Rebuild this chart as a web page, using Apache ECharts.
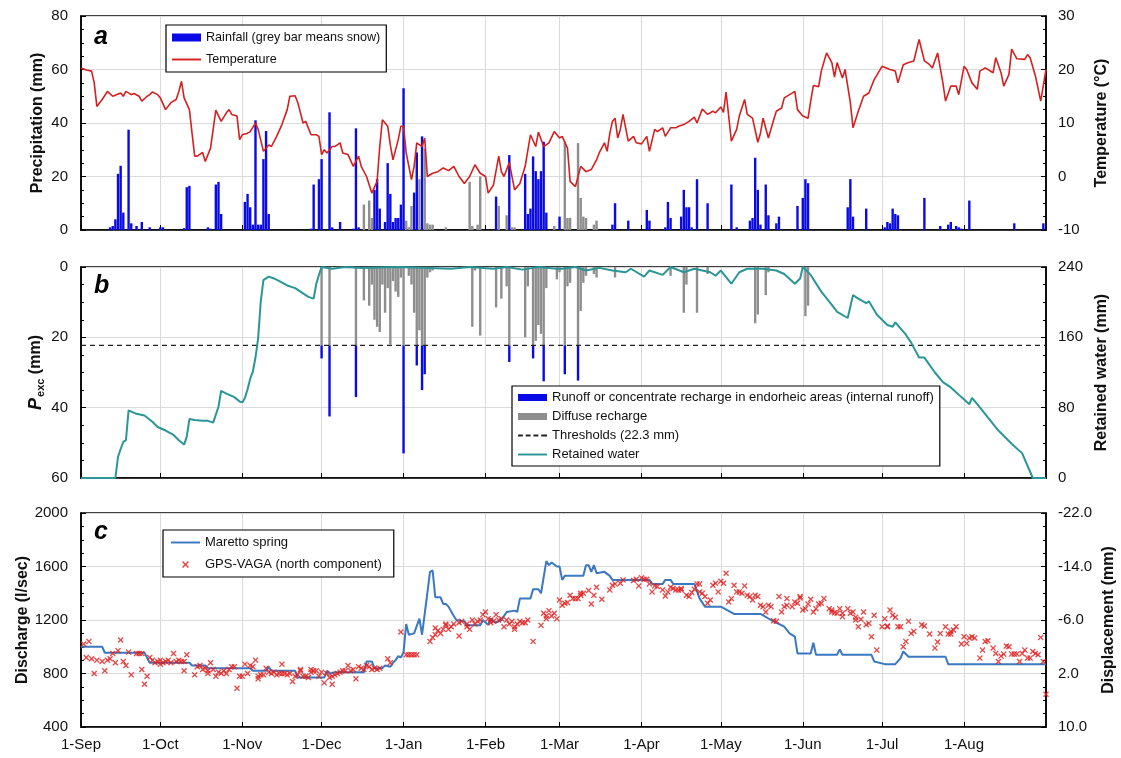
<!DOCTYPE html>
<html>
<head>
<meta charset="utf-8">
<script src="https://cdn.jsdelivr.net/npm/echarts@6/dist/echarts.min.js"></script>
<style>
  html, body { margin: 0; padding: 0; background: #fff; }
  #chart { width: 1121px; height: 758px; }
</style>
</head>
<body>
<div id="chart"></div>
<script>
// Hydrological year 1 Sep – 31 Aug; x values are day numbers counted from 1 Sep.
const monthStarts = [0, 30, 61, 91, 122, 153, 181, 212, 242, 273, 303, 334];
const monthLabels = ['1-Sep', '1-Oct', '1-Nov', '1-Dec', '1-Jan', '1-Feb', '1-Mar', '1-Apr', '1-May', '1-Jun', '1-Jul', '1-Aug'];

// Daily rainfall (mm) [day, value]
const rainfall = [[11,1],[12,1.5],[13,4],[14,21],[15,24],[16,6.5],[18,37.5],[19,2.5],[21,1.5],[23,3],[26,1],[30,1],[31,1],
  [39,0.7],[40,16],[41,16.5],[48,1],[49,0.5],[51,17],[52,18],[53,6],[62,10.5],[63,13.5],[64,8.5],[65,2],[66,41],[67,2],[68,2],
  [69,26.5],[70,37],[71,6],[87,0.5],[88,17],[90,19],[91,26.5],[94,44],[95,1],[98,3],[103,0.5],[104,38],[105,1],[111,15],[112,19],
  [113,8],[115,3],[116,25],[117,13.5],[118,3],[119,4.5],[120,4.5],[121,9.5],[122,53],[126,14],[127,29],[129,35],[157,12.5],
  [162,28],[168,21],[169,6],[170,8],[171,27.5],[172,22],[173,19],[174,22],[175,33],[176,6.5],[181,5],[201,2],[202,10],[207,3.5],
  [214,7.5],[215,3.5],[221,1],[222,10.5],[223,4.5],[227,5],[228,15],[229,8.5],[230,8.5],[231,1],[233,19],[237,10],[246,17],
  [248,1],[253,3.5],[254,4.5],[255,27],[256,15],[257,2],[259,17],[260,5.5],[263,2.5],[264,5],[271,9],[273,12],[274,19],[275,17.5],
  [290,8.5],[291,19],[292,5],[297,8],[304,1],[305,3],[306,2.5],[307,8],[308,6],[309,5.5],[319,12],[325,1.5],[328,2],[329,3],
  [331,1.5],[332,1],[333,0.5],[336,11],[353,2.5],[364,2.5]];

// Daily snowfall (mm water equivalent) [day, value]
const snowfall = [[107,9.5],[109,11],[110,4.5],[123,3.5],[124,1],[125,9],[128,19],[130,30.5],[131,2.5],[132,2],[133,2],[138,1],
  [147,18],[148,1.5],[150,2],[151,20],[158,9],[161,5.5],[163,1],[164,1],[179,1.5],[183,33],[184,4.5],[185,4.5],[188,32.5],
  [189,12],[190,5],[191,4.5],[194,2],[195,3.5]];

// Mean daily air temperature (°C) [day, value]
const temperature = [[0,20.3],[2,19.9],[4,19.7],[5,17.5],[6,13.1],[8,14.4],[10,15.9],[12,15.0],[15,15.6],[16,15.0],[17,15.9],
  [19,15.3],[20,15.5],[22,15.0],[23,14.1],[25,15.0],[26,15.3],[27,15.8],[29,15.3],[30,14.7],[32,12.5],[34,13.8],[36,14.4],[37,15.9],
  [38,17.8],[39,14.7],[41,12.5],[42,8.1],[43,3.8],[44,3.8],[46,4.5],[47,2.8],[49,5.3],[51,12.4],[53,10.3],[55,11.9],[56,12.5],
  [57,11.6],[59,11.3],[60,6.9],[61,7.8],[63,8.1],[64,8.4],[66,10.0],[67,8.8],[69,4.7],[71,5.9],[72,5.6],[74,7.5],[76,9.7],
  [78,12.5],[79,15.0],[81,15.1],[82,13.8],[84,10.0],[85,10.3],[87,7.8],[89,7.8],[90,7.5],[91,4.1],[92,5.0],[93,4.4],[95,5.6],
  [96,5.6],[98,6.3],[99,4.4],[101,4.1],[103,1.9],[105,3.8],[106,1.9],[108,0.0],[110,-3.1],[112,-0.9],[113,5.6],[114,10.6],
  [116,9.4],[117,5.9],[118,3.1],[120,6.9],[121,9.4],[122,9.4],[123,4.4],[125,-0.6],[126,1.9],[127,6.3],[129,5.6],[130,7.2],
  [131,0.0],[133,0.6],[135,0.9],[137,1.6],[139,1.1],[141,1.9],[143,0.0],[145,-1.3],[147,0.0],[149,2.2],[151,0.6],[153,0.0],
  [154,-3.1],[156,-1.6],[158,3.8],[159,0.9],[160,0.0],[162,2.6],[164,-2.5],[166,-1.3],[168,1.9],[170,7.8],[172,5.6],[173,8.3],
  [175,5.6],[177,6.3],[179,8.4],[181,7.2],[182,7.5],[184,5.3],[185,-0.9],[187,-1.9],[189,1.9],[191,0.9],[193,1.3],[195,3.1],
  [196,4.4],[198,6.3],[199,4.7],[200,8.0],[201,10.3],[202,10.9],[203,7.2],[204,8.8],[205,11.6],[207,6.6],[209,7.5],[210,6.3],
  [212,6.1],[214,7.5],[215,4.7],[217,8.8],[218,8.4],[220,9.1],[221,7.5],[223,9.1],[225,9.1],[226,9.4],[228,9.7],[230,10.3],
  [232,11.1],[233,10.0],[235,12.6],[237,11.6],[239,12.2],[240,11.9],[242,13.0],[243,12.0],[244,15.8],[246,6.6],[248,8.8],
  [249,11.3],[251,14.4],[252,11.6],[254,10.9],[256,6.4],[257,8.1],[258,10.9],[260,7.2],[262,10.6],[263,12.2],[265,12.8],
  [266,14.7],[268,15.3],[270,15.9],[271,12.5],[273,11.3],[275,10.9],[276,14.1],[277,17.0],[279,16.8],[280,19.7],[282,23.1],
  [284,21.3],[285,18.6],[286,21.3],[288,18.4],[289,20.0],[291,13.8],[292,9.1],[294,12.2],[296,15.0],[298,15.6],[300,18.1],
  [303,20.6],[306,20.0],[308,19.7],[309,17.5],[311,20.9],[313,21.3],[315,21.6],[317,25.6],[319,21.6],[321,20.9],[322,20.3],
  [324,23.1],[326,17.5],[327,14.1],[329,16.9],[331,16.9],[332,15.3],[334,20.6],[335,20.0],[337,17.5],[339,16.3],[340,19.7],
  [342,20.3],[345,19.4],[346,22.2],[348,19.4],[349,16.9],[351,19.1],[352,23.8],[354,22.0],[357,21.9],[358,22.8],[359,22.2],
  [361,18.8],[363,14.1],[365,20.0]];

// Daily precipitation excess P_exc (mm) [day, value]
const precipExcess = [[91,26],[94,42.5],[104,37],[107,9.5],[109,11],[110,5],[111,15],[112,17],[113,18.5],[114,5],[115,13],
  [116,6],[117,22],[118,4],[119,7],[120,8.5],[121,3],[122,53],[124,2.5],[125,5],[126,13],[127,28],[128,18],[129,35],[130,30.5],
  [131,3],[132,1.5],[133,1],[148,17],[149,1],[151,19.5],[157,11.5],[159,9],[161,5.5],[162,27],[168,20],[169,5.5],[171,26],
  [172,21],[173,16.5],[174,19],[175,32.5],[176,6],[180,3.5],[181,1.5],[183,30.5],[184,5.5],[185,4.5],[188,32.3],[189,12.5],
  [190,4.5],[191,2.5],[194,2],[195,3],[202,3],[223,2.5],[228,13],[229,5],[233,13],[237,2],[255,16],[256,13.5],[259,8],[260,1.5],
  [274,14],[275,11]];
const thresholdMm = 22.3;

// Retained water in the soil store (mm) [day, value]
const retainedWater = [[0,0],[13,0],[14,24],[15,33],[16,41],[17,43],[18,77],[21,73],[24,71],[27,64],[29,58],[32,54],[35,49],
  [37,43],[39,38],[40,47],[41,67],[43,66],[46,65],[48,65],[50,63],[52,81],[53,99],[55,96],[58,92],[60,87],[61,86],[62,91],
  [63,101],[64,113],[65,121],[66,137],[67,159],[68,201],[69,225],[71,229],[73,227],[75,224],[78,219],[81,216],[83,212],[86,206],
  [88,204],[89,221],[90,231],[91,240],[95,238],[100,240],[106,239],[120,240],[140,238],[147,240],[156,238],[161,240],[167,237],
  [173,240],[180,238],[182,238],[187,240],[191,236],[196,239],[201,236],[206,234],[208,238],[213,229],[215,236],[220,231],
  [223,240],[228,234],[232,238],[238,234],[240,230],[242,236],[246,221],[249,234],[252,238],[258,238],[263,236],[266,232],
  [270,221],[272,227],[273,240],[276,231],[280,212],[284,197],[286,189],[290,182],[292,208],[294,204],[297,199],[298,201],
  [301,186],[305,174],[307,172],[308,177],[312,163],[314,154],[317,137],[319,137],[323,120],[326,109],[329,103],[333,92],
  [336,84],[337,91],[339,84],[343,69],[347,54],[352,39],[356,28],[360,0],[365,0]];

// Maretto spring discharge (l/sec) [day, value]
const springDischarge = [[0,1000],[8,1000],[9,955],[24,955],[26,880],[41,880],[42,860],[47,860],[48,840],[64,840],[65,820],
  [70,820],[71,850],[72,820],[81,820],[82,770],[92,770],[93,820],[94,800],[96,810],[107,810],[108,890],[110,890],[111,840],
  [114,840],[115,860],[117,850],[118,880],[119,900],[120,930],[121,920],[122,960],[123,1170],[124,1090],[126,1100],[128,1210],
  [129,1090],[131,1400],[132,1560],[133,1570],[134,1370],[136,1370],[137,1320],[138,1320],[139,1300],[141,1230],[142,1200],
  [145,1190],[146,1160],[151,1160],[152,1200],[154,1165],[155,1210],[157,1180],[159,1200],[161,1260],[164,1270],[165,1260],
  [166,1360],[170,1360],[171,1430],[173,1430],[174,1400],[176,1640],[177,1610],[178,1630],[180,1600],[181,1600],[182,1500],
  [183,1530],[190,1530],[191,1610],[192,1610],[193,1560],[194,1610],[195,1550],[198,1560],[200,1530],[201,1500],[215,1500],
  [216,1470],[220,1470],[221,1500],[223,1500],[224,1470],[232,1470],[234,1360],[236,1300],[242,1300],[247,1245],[257,1245],
  [261,1200],[266,1150],[268,1100],[270,1075],[271,950],[276,950],[277,1030],[278,940],[286,940],[287,980],[288,940],
  [299,940],[300,890],[304,870],[308,870],[310,915],[311,965],[313,925],[327,925],[328,870],[365,870]];

// GPS-VAGA north component displacement (mm) [day, value]
const gpsNorth = [[1,-2.4],[2,-0.4],[3,-2.8],[4,-0.2],[5,2.0],[6,0.0],[8,0.2],[9,1.6],[10,0.0],[11,-0.2],[12,-1.0],[13,0.4],
  [14,-1.4],[15,-3.0],[16,0.2],[17,0.8],[18,-1.2],[19,2.2],[21,-1.0],[22,-1.0],[23,-1.0],[23,1.4],[24,3.6],[25,2.4],[26,-0.4],
  [27,0.0],[28,0.4],[29,0.2],[30,0.6],[30,0.0],[31,0.4],[32,0.2],[33,0.0],[34,0.4],[35,-1.0],[36,0.2],[37,0.0],[38,0.2],[39,0.2],
  [39,1.6],[40,-0.8],[43,2.2],[44,1.0],[45,0.8],[46,1.4],[47,1.2],[48,1.6],[48,2.0],[49,0.4],[50,1.4],[51,2.4],[52,1.8],[53,2.0],
  [54,1.6],[55,2.0],[56,1.4],[57,1.0],[58,1.0],[59,4.2],[60,2.4],[61,2.4],[62,0.6],[63,2.0],[64,0.8],[65,1.0],[66,0.0],[67,2.8],
  [67,2.4],[68,2.2],[69,2.2],[70,1.2],[71,1.8],[72,2.0],[73,1.8],[74,2.2],[75,2.0],[76,0.6],[76,2.0],[77,2.0],[78,2.2],[79,2.0],
  [80,3.2],[81,2.4],[82,2.2],[83,1.4],[83,1.6],[84,2.4],[85,2.4],[86,2.6],[87,1.4],[87,1.8],[88,1.6],[89,1.6],[90,2.4],[91,1.8],
  [92,3.4],[93,2.0],[94,2.6],[95,3.6],[95,2.4],[96,2.2],[97,2.0],[98,1.8],[99,1.6],[100,1.6],[101,0.8],[102,1.6],[103,1.4],
  [104,2.8],[105,1.0],[106,1.2],[107,1.4],[108,0.8],[109,1.0],[110,1.4],[111,1.2],[112,1.4],[113,1.2],[116,-0.2],[117,0.4],
  [121,-4.2],[123,-0.8],[124,-0.8],[125,-0.8],[126,-0.8],[127,-0.8],[132,-2.8],[133,-3.4],[134,-3.8],[134,-4.8],[135,-4.4],
  [136,-4.0],[137,-4.6],[138,-5.2],[138,-5.4],[139,-4.6],[140,-5.0],[141,-5.4],[143,-3.6],[143,-5.6],[144,-5.8],[146,-5.4],
  [146,-5.0],[147,-4.6],[148,-6.0],[149,-5.4],[150,-5.8],[151,-6.0],[152,-6.8],[153,-7.2],[154,-6.2],[155,-6.0],[155,-5.6],
  [156,-5.8],[157,-6.8],[158,-6.0],[159,-6.2],[160,-5.0],[161,-6.0],[162,-5.4],[163,-5.8],[164,-5.0],[164,-4.6],[165,-5.4],
  [166,-5.8],[167,-5.6],[168,-5.6],[169,-6.0],[171,-2.8],[174,-5.2],[175,-7.0],[176,-6.6],[176,-6.2],[177,-7.4],[178,-6.6],
  [179,-7.0],[180,-6.2],[181,-9.0],[182,-8.2],[183,-8.5],[184,-8.6],[185,-9.7],[186,-9.2],[187,-9.2],[188,-9.2],[189,-9.7],
  [189,-10.0],[190,-10.0],[192,-10.4],[193,-8.4],[194,-9.7],[195,-10.9],[197,-9.1],[200,-10.5],[201,-11.2],[202,-11.4],
  [204,-11.5],[205,-12.0],[209,-11.9],[210,-12.1],[211,-11.1],[212,-12.3],[213,-12.1],[214,-12.1],[215,-11.4],[216,-10.2],
  [217,-11.1],[218,-11.0],[220,-10.5],[221,-9.6],[222,-10.2],[223,-10.9],[224,-10.7],[225,-10.5],[226,-10.5],[227,-10.5],
  [227,-10.7],[229,-9.7],[230,-9.5],[231,-10.1],[232,-10.6],[233,-11.4],[234,-11.4],[234,-10.2],[235,-10.0],[236,-9.5],
  [237,-8.5],[238,-9.0],[239,-11.2],[240,-11.5],[241,-10.2],[242,-11.8],[243,-11.5],[244,-13.0],[245,-8.7],[246,-9.2],
  [247,-11.2],[248,-10.2],[249,-10.2],[250,-10.0],[251,-11.1],[252,-9.7],[253,-9.5],[254,-9.0],[255,-9.7],[256,-9.5],
  [257,-8.2],[258,-8.0],[259,-7.2],[260,-8.2],[261,-8.0],[262,-5.9],[263,-5.8],[264,-9.5],[265,-7.2],[266,-8.0],[267,-8.2],
  [267,-9.2],[269,-8.0],[270,-8.7],[271,-8.5],[272,-9.5],[272,-9.3],[273,-7.5],[274,-7.7],[275,-8.4],[276,-9.1],[277,-7.2],
  [278,-7.7],[279,-8.4],[280,-8.5],[281,-9.2],[283,-7.7],[284,-7.2],[284,-7.5],[285,-7.1],[286,-7.0],[287,-7.7],[288,-6.5],
  [288,-7.0],[290,-7.7],[291,-7.0],[292,-7.2],[293,-6.4],[293,-6.0],[294,-5.0],[295,-6.1],[296,-7.2],[297,-5.3],[298,-5.5],
  [299,-3.5],[300,-6.7],[301,-1.5],[303,-5.0],[304,-6.2],[305,-5.0],[305,-5.1],[306,-7.5],[307,-6.7],[308,-6.4],[309,-5.0],
  [310,-5.0],[311,-2.0],[312,-2.8],[313,-5.8],[314,-4.0],[315,-4.3],[318,-5.3],[319,-5.1],[321,-3.9],[323,-1.8],[324,-2.7],
  [325,-4.0],[327,-5.0],[328,-3.9],[329,-3.9],[329,-4.3],[330,-4.5],[331,-5.0],[333,-2.4],[334,-3.5],[335,-2.5],[336,-3.3],
  [337,-3.5],[338,-3.3],[340,-0.3],[341,-1.5],[342,-2.8],[343,-2.9],[345,-1.8],[346,-1.0],[347,0.2],[348,-0.6],[349,-0.9],
  [350,-2.1],[351,-2.0],[352,-0.9],[353,-0.9],[354,-0.9],[355,0.2],[356,-1.0],[357,-1.5],[358,-0.3],[359,-0.3],[360,-1.3],
  [361,-1.0],[362,-0.8],[363,-3.4],[364,0.2],[365,5.1]];

// ---------------------------------------------------------------------------
const DAYS = 366;
const monthSet = new Set(monthStarts);
const dayCategories = Array.from({ length: DAYS }, (_, i) => {
  const m = monthStarts.indexOf(i);
  return m >= 0 ? monthLabels[m] : 'd' + i;
});

function dailyArray(pairs) {
  const arr = new Array(DAYS).fill(null);
  pairs.forEach(([d, v]) => { arr[d] = v; });
  return arr;
}

// Split precipitation excess into diffuse recharge (up to the threshold) and runoff (above it).
const diffuseDaily = new Array(DAYS).fill(null);
const runoffDaily = new Array(DAYS).fill(null);
precipExcess.forEach(([d, v]) => {
  diffuseDaily[d] = Math.min(v, thresholdMm);
  if (v > thresholdMm) runoffDaily[d] = +(v - thresholdMm).toFixed(2);
});

const FONT = 'Liberation Sans, Arial, sans-serif';
const BLUE = '#0a0ae6';
const GREY = '#8e8e8e';
const RED = '#d42020';
const TEAL = '#2b9696';
const SPRING = '#3a78c2';

function xAxis(grid, showLabels) {
  return {
    type: 'category', gridIndex: grid, data: dayCategories, boundaryGap: false,
    axisLine: { onZero: false, lineStyle: { color: '#000', width: 1.5 } },
    axisTick: { show: true, inside: true, length: 5, interval: (i) => monthSet.has(i), lineStyle: { color: '#000', width: 1 } },
    axisLabel: { show: showLabels, interval: (i) => monthSet.has(i), fontSize: 15, color: '#111', fontFamily: FONT, margin: 10 },
    splitLine: { show: true, interval: (i) => i > 0 && monthSet.has(i), lineStyle: { color: '#dadada', width: 1 } }
  };
}

function yAxis(grid, position, min, max, interval, opts) {
  return Object.assign({
    type: 'value', gridIndex: grid, position: position, min: min, max: max, interval: interval,
    nameLocation: 'middle', nameRotate: 90, nameMoveOverlap: false,
    nameTextStyle: { fontSize: 16, fontWeight: 'bold', color: '#111', fontFamily: FONT },
    axisLine: { show: true, onZero: false, lineStyle: { color: '#000', width: 1.5 } },
    axisTick: { show: true, inside: true, length: 5, lineStyle: { color: '#000' } },
    minorTick: { show: true, splitNumber: 4, length: 3, lineStyle: { color: '#000' } },
    axisLabel: { fontSize: 15, color: '#111', fontFamily: FONT, margin: position === 'left' ? 13 : 12, formatter: (v) => String(v) },
    splitLine: { show: position === 'left', lineStyle: { color: '#dadada', width: 1 } }
  }, opts || {});
}

const gridBase = { left: 81, right: 75, show: true, borderColor: '#000', borderWidth: 1.5, outerBoundsMode: 'none', containLabel: false };

const xMark = 'path://M0,1.6 L1.6,0 L5,3.4 L8.4,0 L10,1.6 L6.6,5 L10,8.4 L8.4,10 L5,6.6 L1.6,10 L0,8.4 L3.4,5 Z';
const lineIcon = 'path://M0,0 H30 V2 H0 Z';
const dashIcon = 'path://M0,0 H5 V2 H0 Z M8,0 H13 V2 H8 Z M16,0 H21 V2 H16 Z M24,0 H30 V2 H24 Z';

const legendBase = {
  orient: 'vertical', backgroundColor: '#fff', borderColor: '#000', borderWidth: 1.2,
  itemWidth: 29, itemHeight: 7, textStyle: { fontSize: 12.6, color: '#111', fontFamily: FONT },
  selectedMode: false
};

const option = {
  animation: false,
  backgroundColor: '#fff',
  grid: [
    Object.assign({ top: 16, height: 214 }, gridBase),
    Object.assign({ top: 267, height: 211 }, gridBase),
    Object.assign({ top: 513, height: 214 }, gridBase)
  ],
  xAxis: [xAxis(0, false), xAxis(1, false), xAxis(2, true)],
  yAxis: [
    yAxis(0, 'left', 0, 80, 20, { name: 'Precipitation (mm)', nameGap: 35 }),
    yAxis(0, 'right', -10, 30, 10, { name: 'Temperature (°C)', nameGap: 48 }),
    yAxis(1, 'left', 0, 60, 20, {
      inverse: true, nameGap: 35,
      name: '{p|P}{s|exc}{n| (mm)}',
      nameTextStyle: {
        fontFamily: FONT, color: '#111',
        rich: {
          p: { fontSize: 18, fontWeight: 'bold', fontStyle: 'italic', fontFamily: FONT, color: '#111' },
          s: { fontSize: 11, fontWeight: 'bold', fontFamily: FONT, color: '#111', padding: [9, 0, 0, 1] },
          n: { fontSize: 16, fontWeight: 'bold', fontFamily: FONT, color: '#111' }
        }
      }
    }),
    yAxis(1, 'right', 0, 240, 80, { name: 'Retained water (mm)', nameGap: 48 }),
    yAxis(2, 'left', 400, 2000, 400, { name: 'Discharge (l/sec)', nameGap: 50 }),
    yAxis(2, 'right', -22, 10, 8, {
      inverse: true, name: 'Displacement (mm)', nameGap: 55,
      axisLabel: { fontSize: 15, color: '#111', fontFamily: FONT, margin: 12, formatter: (v) => v.toFixed(1) }
    })
  ],
  legend: [
    Object.assign({}, legendBase, {
      left: 166, top: 25, padding: [6, 6, 6, 6], itemGap: 9, itemHeight: 8,
      data: [{ name: 'Rainfall (grey bar means snow)', icon: 'rect' }, { name: 'Temperature', icon: lineIcon }]
    }),
    Object.assign({}, legendBase, {
      left: 512, top: 386, padding: [5, 6, 5, 6], itemGap: 6,
      textStyle: { fontSize: 13, color: '#111', fontFamily: FONT },
      data: [
        { name: 'Runoff or concentrate recharge in endorheic areas (internal runoff)', icon: 'rect' },
        { name: 'Diffuse recharge', icon: 'rect' },
        { name: 'Thresholds (22.3 mm)', icon: dashIcon },
        { name: 'Retained water', icon: lineIcon }
      ]
    }),
    Object.assign({}, legendBase, {
      left: 163, top: 530, padding: [6, 12, 6, 8], itemGap: 9,
      textStyle: { fontSize: 13, color: '#111', fontFamily: FONT },
      data: [{ name: 'Maretto spring', icon: lineIcon }, { name: 'GPS-VAGA (north component)' }]
    })
  ],
  graphic: [
    { type: 'text', style: { x: 94, y: 50, text: 'a', font: 'italic bold 25px ' + FONT, fill: '#000', verticalAlign: 'bottom' } },
    { type: 'text', style: { x: 94, y: 299, text: 'b', font: 'italic bold 25px ' + FONT, fill: '#000', verticalAlign: 'bottom' } },
    { type: 'text', style: { x: 94, y: 545, text: 'c', font: 'italic bold 25px ' + FONT, fill: '#000', verticalAlign: 'bottom' } }
  ],
  series: [
    {
      name: 'Rainfall (grey bar means snow)', type: 'bar', xAxisIndex: 0, yAxisIndex: 0,
      data: dailyArray(rainfall), barWidth: 2.4, barGap: '-100%', itemStyle: { color: BLUE }
    },
    {
      name: 'Snowfall', type: 'bar', xAxisIndex: 0, yAxisIndex: 0,
      data: dailyArray(snowfall), barWidth: 2.4, barGap: '-100%', itemStyle: { color: GREY }
    },
    {
      name: 'Temperature', type: 'line', xAxisIndex: 0, yAxisIndex: 1, data: temperature,
      symbol: 'none', lineStyle: { color: RED, width: 1.6 }, itemStyle: { color: RED }, z: 5
    },
    {
      name: 'Diffuse recharge', type: 'bar', xAxisIndex: 1, yAxisIndex: 2, stack: 'pexc',
      data: diffuseDaily, barWidth: 2.4, itemStyle: { color: GREY }
    },
    {
      name: 'Runoff or concentrate recharge in endorheic areas (internal runoff)', type: 'bar',
      xAxisIndex: 1, yAxisIndex: 2, stack: 'pexc', data: runoffDaily, barWidth: 2.4, itemStyle: { color: BLUE }
    },
    {
      name: 'Thresholds (22.3 mm)', type: 'line', xAxisIndex: 1, yAxisIndex: 2,
      data: [[0, thresholdMm], [DAYS - 1, thresholdMm]], symbol: 'none',
      lineStyle: { color: '#222', width: 1.2, type: [5, 4] }, itemStyle: { color: '#222' }, z: 4
    },
    {
      name: 'Retained water', type: 'line', xAxisIndex: 1, yAxisIndex: 3, data: retainedWater,
      symbol: 'none', lineStyle: { color: TEAL, width: 2 }, itemStyle: { color: TEAL }, z: 5
    },
    {
      name: 'Maretto spring', type: 'line', xAxisIndex: 2, yAxisIndex: 4, data: springDischarge,
      symbol: 'none', lineStyle: { color: SPRING, width: 2 }, itemStyle: { color: SPRING }, z: 4
    },
    {
      name: 'GPS-VAGA (north component)', type: 'scatter', xAxisIndex: 2, yAxisIndex: 5, data: gpsNorth,
      symbol: xMark, symbolSize: 6, itemStyle: { color: '#e01e1e' }, z: 5
    }
  ]
};

const chart = echarts.init(document.getElementById('chart'), null, { renderer: 'canvas' });
chart.setOption(option);
</script>
</body>
</html>
